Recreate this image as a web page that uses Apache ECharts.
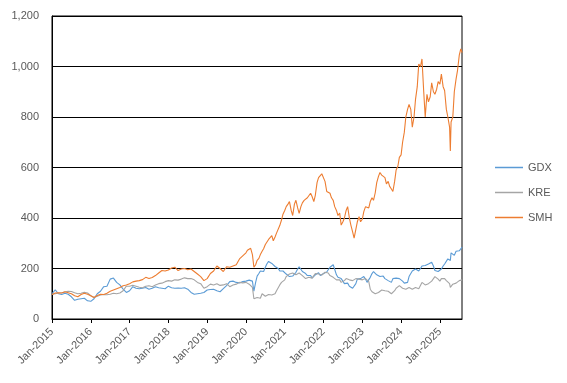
<!DOCTYPE html>
<html>
<head>
<meta charset="utf-8">
<script src="https://cdn.jsdelivr.net/npm/echarts@6/dist/echarts.min.js"></script>
<style>
html,body{margin:0;padding:0;background:#fff;}
#chart{width:567px;height:383px;}
</style>
</head>
<body>
<div id="chart"></div>
<script>
// Dates: "YYYY-MM" = 1st of month, "YYYY-MM-DD" explicit day
const dates = [
 "2015-01","2015-02","2015-03","2015-04","2015-05","2015-06","2015-07","2015-08","2015-09","2015-10","2015-11","2015-12",
 "2016-01","2016-02","2016-03","2016-04","2016-05","2016-06","2016-07","2016-08","2016-09","2016-10","2016-11","2016-12",
 "2017-01","2017-02","2017-03","2017-04","2017-05","2017-06","2017-07","2017-08","2017-09","2017-10","2017-11","2017-12",
 "2018-01","2018-02","2018-03","2018-04","2018-05","2018-06","2018-07","2018-08","2018-09","2018-10","2018-11","2018-12",
 "2019-01","2019-02","2019-03","2019-04","2019-05","2019-06","2019-07","2019-08","2019-09","2019-10","2019-11","2019-12",
 "2020-01","2020-01-15","2020-02","2020-02-15","2020-03","2020-03-15","2020-04","2020-04-15","2020-05","2020-05-15","2020-06","2020-06-15",
 "2020-07","2020-07-15","2020-08","2020-08-15","2020-09","2020-09-15","2020-10","2020-10-15","2020-11","2020-11-15","2020-12","2020-12-15",
 "2021-01","2021-01-15","2021-02","2021-02-15","2021-03","2021-03-15","2021-04","2021-04-15","2021-05","2021-05-15","2021-06","2021-06-15",
 "2021-07","2021-07-15","2021-08","2021-08-15","2021-09","2021-09-15","2021-10","2021-10-15","2021-11","2021-11-15","2021-12","2021-12-15",
 "2022-01","2022-01-15","2022-02","2022-02-15","2022-03","2022-03-15","2022-04","2022-04-15","2022-05","2022-05-15","2022-06","2022-06-15",
 "2022-07","2022-07-15","2022-08","2022-08-15","2022-09","2022-09-15","2022-10","2022-10-15","2022-11","2022-11-15","2022-12","2022-12-15",
 "2023-01","2023-01-15","2023-02","2023-02-15","2023-03","2023-03-15","2023-04","2023-04-15","2023-05","2023-05-15","2023-06","2023-06-15",
 "2023-07","2023-07-15","2023-08","2023-08-15","2023-09","2023-09-15","2023-10","2023-10-15","2023-11","2023-11-15","2023-12","2023-12-15",
 "2024-01","2024-01-15","2024-02","2024-02-15","2024-03","2024-03-15","2024-04","2024-04-15","2024-05","2024-05-15","2024-06","2024-06-15",
 "2024-07","2024-07-15","2024-08","2024-08-15","2024-09","2024-09-15","2024-10","2024-10-15","2024-11","2024-11-15","2024-12","2024-12-15",
 "2025-01","2025-01-15","2025-02","2025-02-15","2025-03","2025-03-15",
 "2025-04","2025-04-08","2025-04-15","2025-05","2025-05-15","2025-06","2025-06-15","2025-07","2025-07-15","2025-07-28"
];

const gdx = [
 100,115,100,97,102,98,88,74,78,80,82,72,
 70,80,100,110,128,130,158,162,145,135,118,105,
 112,128,122,120,122,125,118,122,128,124,122,120,
 130,124,122,123,122,124,118,105,98,100,102,105,
 115,117,118,112,108,120,132,148,150,145,143,148,
 150,152,154,158,150,110,145,170,180,190,186,188,205,218,228,222,220,215,208,205,200,190,185,190,
 185,178,175,168,162,170,175,185,198,207,205,188,185,180,172,168,172,162,168,175,178,183,172,178,
 180,178,186,195,205,210,215,208,175,165,168,160,150,140,145,142,130,128,122,120,140,158,162,160,
 160,168,158,145,150,165,180,188,185,175,170,168,165,170,160,155,152,155,145,160,165,162,168,160,
 158,150,142,138,145,168,180,190,185,198,192,190,200,210,205,212,210,218,222,225,210,192,195,188,
 185,198,210,218,215,238,
 245,232,262,258,252,268,272,270,275,285
];

const kre = [
 97,100,103,104,107,110,109,104,100,102,106,103,
 92,85,90,95,97,96,98,102,100,103,112,130,
 130,134,130,126,124,130,132,128,135,140,142,148,
 152,150,155,154,158,163,160,160,155,145,140,122,
 128,138,135,140,133,135,140,128,135,138,145,143,
 145,140,138,140,125,80,75,85,90,82,100,95,90,92,97,98,95,93,100,112,110,135,145,152,
 155,168,170,178,185,182,178,175,180,182,183,172,168,160,162,165,160,162,172,180,182,178,172,174,
 178,185,180,182,172,170,165,160,155,152,155,145,150,152,160,162,155,158,152,155,160,162,158,152,
 155,158,160,158,148,118,108,110,100,98,105,112,115,118,112,108,110,106,100,102,112,122,128,132,
 128,122,120,118,120,125,122,118,122,125,122,120,125,145,140,135,142,140,145,150,152,168,165,158,
 150,160,162,160,152,145,
 140,125,132,138,145,142,145,152,158,155
];

const smh = [
 97,103,104,103,108,104,100,92,88,97,102,98,
 92,85,93,98,97,102,110,115,120,125,132,135,
 140,147,150,152,156,165,160,164,172,182,192,190,
 194,202,205,192,198,200,195,198,188,178,168,152,
 160,180,190,210,200,188,207,205,210,215,238,250,
 262,272,268,280,255,205,215,232,240,255,268,278,295,300,315,318,330,310,325,340,335,370,392,415,
 430,445,455,465,430,410,455,470,440,418,445,460,470,475,480,485,498,485,465,490,540,560,555,575,
 580,545,505,510,498,480,470,445,430,410,420,372,385,400,430,445,400,372,345,320,355,385,405,385,
 395,425,445,450,440,465,480,470,500,540,565,580,570,575,560,535,545,525,515,505,545,590,605,640,
 650,700,740,800,830,850,830,760,800,870,920,1010,1000,1030,900,800,890,860,880,935,900,890,910,940,
 930,970,920,905,830,800,
 760,665,780,800,900,950,985,1045,1070,1055
];

const tickYears = [2015,2016,2017,2018,2019,2020,2021,2022,2023,2024,2025];

function toYear(s){
  const p = s.split('-').map(Number);
  const day = p[2] || 1;
  return p[0] + (p[1]-1 + (day-1)/30.4)/12;
}
function pairs(vals){ return dates.map((d,i)=>[toYear(d), vals[i]]); }

const labelColor = '#595959';
const font = '"Liberation Sans", Arial, sans-serif';

const chart = echarts.init(document.getElementById('chart'), null, {renderer:'canvas'});
chart.setOption({
  animation:false,
  backgroundColor:'#fff',
  grid:{left:52,right:105,top:16,bottom:64,containLabel:false,show:true,borderColor:'#000',borderWidth:1},
  legend:{
    orient:'vertical', left:495, top:161, itemWidth:28, itemHeight:1.5, itemGap:12, icon:'rect',
    padding:0,
    textStyle:{color:labelColor,fontSize:11,fontFamily:font,lineHeight:13},
    data:['GDX','KRE','SMH']
  },
  xAxis:{
    type:'value', min:2015, max:2025.57,
    axisLine:{show:true,lineStyle:{color:'#000',width:1}},
    axisTick:{show:true,length:4,lineStyle:{color:'#000'},customValues:tickYears},
    splitLine:{show:false},
    axisLabel:{
      customValues:tickYears,
      rotate:45, margin:11, color:labelColor, fontSize:11, fontFamily:font,
      formatter:v=>'Jan-'+Math.round(v)
    }
  },
  yAxis:{
    type:'value', min:0, max:1200, interval:200,
    axisLine:{show:true,lineStyle:{color:'#000',width:1}},
    axisTick:{show:false},
    splitLine:{show:true,lineStyle:{color:'#000',width:1}},
    axisLabel:{color:labelColor,fontSize:11,fontFamily:font,margin:13,
      formatter:v=>v.toLocaleString('en-US')}
  },
  series:[
    {name:'GDX',type:'line',data:pairs(gdx),symbol:'none',lineStyle:{color:'#5B9BD5',width:1.1},itemStyle:{color:'#5B9BD5'}},
    {name:'KRE',type:'line',data:pairs(kre),symbol:'none',lineStyle:{color:'#A5A5A5',width:1.1},itemStyle:{color:'#A5A5A5'}},
    {name:'SMH',type:'line',data:pairs(smh),symbol:'none',lineStyle:{color:'#ED7D31',width:1.1},itemStyle:{color:'#ED7D31'}}
  ]
});
</script>
</body>
</html>
